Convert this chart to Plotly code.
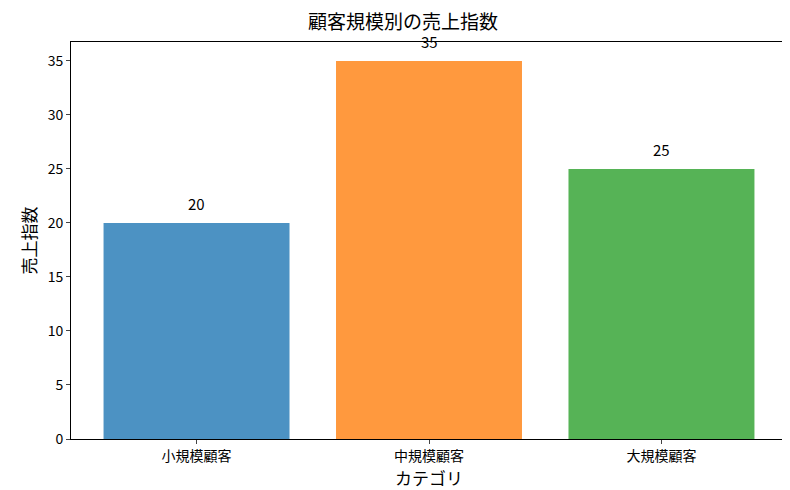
import plotly.graph_objects as go

categories = ["小規模顧客", "中規模顧客", "大規模顧客"]
values = [20, 35, 25]
colors = ["rgba(31,119,180,0.8)", "rgba(255,127,14,0.8)", "rgba(44,160,44,0.8)"]

fig = go.Figure(go.Bar(x=categories, y=values, marker_color=colors, width=0.8,
                       marker_line_width=0))
for c, v in zip(categories, values):
    fig.add_annotation(x=c, y=v, text=str(v), showarrow=False, yshift=19,
                       font=dict(size=15, color="black"))
fig.update_layout(
    width=790, height=490, plot_bgcolor="white", paper_bgcolor="white",
    font=dict(family="Noto Sans CJK JP", color="black", size=14),
    margin=dict(l=63, r=11, t=34, b=59, autoexpand=False),
    title=dict(text="顧客規模別の売上指数", x=0.5, xanchor="center", y=0.985, yanchor="top",
               font=dict(size=19)),
    showlegend=False,
)
fig.update_xaxes(range=[-0.54, 2.54], showline=True, linecolor="black", mirror=True,
                 automargin=False, ticks="outside", ticklen=4,
                 title=dict(text="カテゴリ", font=dict(size=17), standoff=4))
fig.update_yaxes(range=[0, 36.75], showline=True, linecolor="black", mirror=True,
                 automargin=False, ticks="outside", ticklen=4, showgrid=False, dtick=5,
                 title=dict(text="売上指数", font=dict(size=17), standoff=6))
fig.write_html("out.html")
